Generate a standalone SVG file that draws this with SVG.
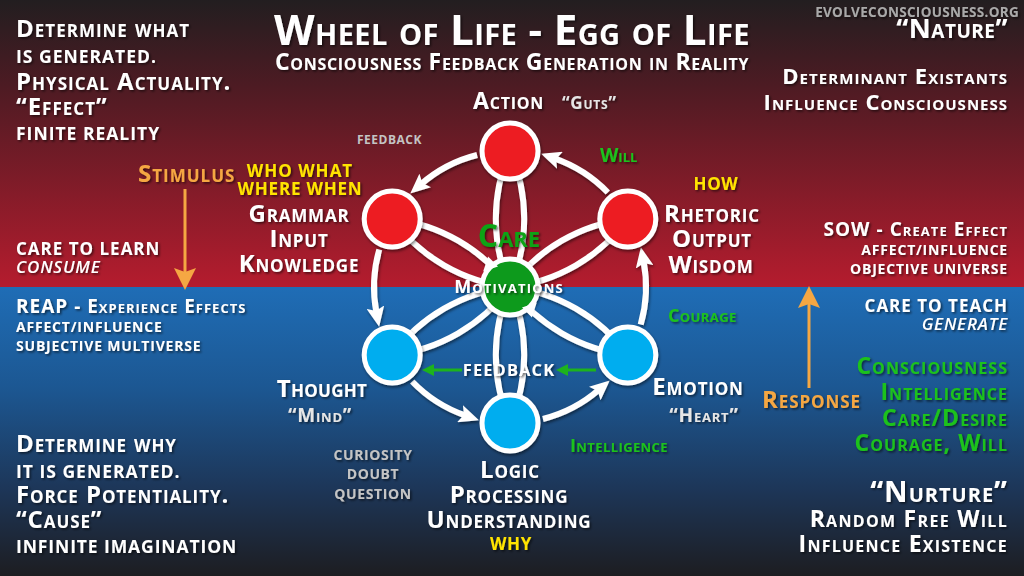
<svg xmlns="http://www.w3.org/2000/svg" width="1024" height="576" viewBox="0 0 1024 576">
<defs>
<linearGradient id="gRed" x1="0" y1="0" x2="0" y2="1">
<stop offset="0" stop-color="#221e20"/>
<stop offset="0.3" stop-color="#4d1b23"/>
<stop offset="1" stop-color="#b51c2e"/>
</linearGradient>
<linearGradient id="gBlue" x1="0" y1="0" x2="0" y2="1">
<stop offset="0" stop-color="#1f6db6"/>
<stop offset="0.35" stop-color="#1c5792"/>
<stop offset="0.7" stop-color="#1d3658"/>
<stop offset="1" stop-color="#1d1d21"/>
</linearGradient>
<filter id="sh" x="-20%" y="-20%" width="140%" height="140%">
<feDropShadow dx="1" dy="2" stdDeviation="1.5" flood-color="#000" flood-opacity="0.5"/>
</filter>
<filter id="tsh" x="-10%" y="-30%" width="120%" height="160%">
<feDropShadow dx="1.5" dy="1.5" stdDeviation="1" flood-color="#000" flood-opacity="0.6"/>
</filter>
<marker id="aw" markerUnits="userSpaceOnUse" markerWidth="20" markerHeight="18" refX="6" refY="9" orient="auto">
<path d="M0,0 L20,9 L0,18 L4,9 z" fill="#fff"/>
</marker>
<marker id="ag" markerUnits="userSpaceOnUse" markerWidth="12" markerHeight="12" refX="3" refY="6" orient="auto">
<path d="M0,0 L12,6 L0,12 z" fill="#1db31d"/>
</marker>
<marker id="ao" markerUnits="userSpaceOnUse" markerWidth="22" markerHeight="22" refX="4" refY="11" orient="auto">
<path d="M0,0 L22,11 L0,22 L4,11 z" fill="#f5a743"/>
</marker>
<style>
.t{font-family:"Open Sans","Liberation Sans",sans-serif;font-weight:700;font-variant:small-caps;fill:#fff;letter-spacing:0.8px;}
.n{font-family:"Open Sans","Liberation Sans",sans-serif;font-weight:700;fill:#fff;letter-spacing:0.6px;}
.g{fill:#1cc21c;}
.y{fill:#ffe400;}
.o{fill:#f5a743;}
.gr{fill:#c4c4c4;}
.lg{fill:#e6e6e6;}
.it{font-style:italic;font-weight:600;}
.m{text-anchor:middle;}
.e{text-anchor:end;}
.ring{fill:none;stroke:#fff;stroke-width:6;}
.red{fill:#ed1c24;stroke:#fff;stroke-width:5;}
.blue{fill:#00adef;stroke:#fff;stroke-width:5;}
.grn{fill:#0f9a1c;stroke:#fff;stroke-width:5;}
</style>
</defs>

<g id="background">
<rect x="0" y="0" width="1024" height="287" fill="url(#gRed)"/>
<rect x="0" y="287" width="1024" height="289" fill="url(#gBlue)"/>
</g>

<g id="title" filter="url(#tsh)">
<text class="t m" x="512" y="45" font-size="42" style="letter-spacing:0.4px">Wheel of Life - Egg of Life</text>
<text class="t m" x="512" y="70" font-size="23" font-weight="600" style="letter-spacing:0.7px">Consciousness Feedback Generation in Reality</text>
<text class="n e" x="1019" y="17" font-size="13.5" style="fill:#a9a9a9;letter-spacing:0.3px">EVOLVECONSCIOUSNESS.ORG</text>
</g>

<g id="top-left" filter="url(#tsh)">
<text class="t" x="16" y="37" font-size="24" style="letter-spacing:1px">Determine what</text>
<text class="n" x="16" y="63" font-size="17.5" style="letter-spacing:1px">IS GENERATED.</text>
<text class="t" x="16" y="90" font-size="24" style="letter-spacing:1px">Physical Actuality.</text>
<text class="t" x="16" y="115" font-size="24" style="letter-spacing:1px">“Effect”</text>
<text class="n" x="16" y="140" font-size="17.5" style="letter-spacing:1px">FINITE REALITY</text>
</g>

<g id="top-right" filter="url(#tsh)">
<text class="t e" x="1008" y="38" font-size="27" style="letter-spacing:0.5px">“Nature”</text>
<text class="t e" x="1008" y="84" font-size="22" style="letter-spacing:1.05px">Determinant Existants</text>
<text class="t e" x="1008" y="110" font-size="22" style="letter-spacing:1px">Influence Consciousness</text>
</g>

<g id="left-mid" filter="url(#tsh)">
<text class="n" x="16" y="255" font-size="17" style="letter-spacing:1px">CARE TO LEARN</text>
<text class="n it" x="16" y="273" font-size="17" style="letter-spacing:0.8px">CONSUME</text>
<text class="t" x="16" y="313" font-size="19" style="letter-spacing:1px">REAP - Experience Effects</text>
<text class="n" x="16" y="332" font-size="14" style="letter-spacing:0.8px">AFFECT/INFLUENCE</text>
<text class="n" x="16" y="351" font-size="14" style="letter-spacing:0.8px">SUBJECTIVE MULTIVERSE</text>
</g>

<g id="right-mid" filter="url(#tsh)">
<text class="t e" x="1008" y="236" font-size="19" style="letter-spacing:1.05px">SOW - Create Effect</text>
<text class="n e" x="1008" y="255" font-size="14" style="letter-spacing:0.8px">AFFECT/INFLUENCE</text>
<text class="n e" x="1008" y="274" font-size="14" style="letter-spacing:0.8px">OBJECTIVE UNIVERSE</text>
<text class="n e" x="1008" y="312" font-size="17" style="letter-spacing:1px">CARE TO TEACH</text>
<text class="n e it" x="1008" y="330" font-size="17" style="letter-spacing:0.8px">GENERATE</text>
</g>

<g id="stimulus">
<text class="t o" x="138" y="182" font-size="24" filter="url(#tsh)" style="letter-spacing:1px">Stimulus</text>
<line x1="185" y1="189" x2="185" y2="272" stroke="#f5a743" stroke-width="3" marker-end="url(#ao)"/>
</g>

<g id="response">
<line x1="809" y1="388" x2="809" y2="304" stroke="#f5a743" stroke-width="3" marker-end="url(#ao)"/>
<text class="t o" x="762" y="408" font-size="24" filter="url(#tsh)" style="letter-spacing:0.9px">Response</text>
</g>

<g id="bottom-left" filter="url(#tsh)">
<text class="t" x="16" y="452" font-size="24" style="letter-spacing:0.9px">Determine why</text>
<text class="n" x="16" y="478" font-size="17.5" style="letter-spacing:1px">IT IS GENERATED.</text>
<text class="t" x="16" y="503" font-size="24" style="letter-spacing:0.9px">Force Potentiality.</text>
<text class="t" x="16" y="528" font-size="24" style="letter-spacing:0.9px">“Cause”</text>
<text class="n" x="16" y="553" font-size="17.5" style="letter-spacing:0.9px">INFINITE IMAGINATION</text>
</g>

<g id="bottom-right" filter="url(#tsh)">
<text class="t e g" x="1008" y="374" font-size="23" style="letter-spacing:1.05px">Consciousness</text>
<text class="t e g" x="1008" y="400" font-size="23" style="letter-spacing:1.05px">Intelligence</text>
<text class="t e g" x="1008" y="426" font-size="23" style="letter-spacing:1.05px">Care/Desire</text>
<text class="t e g" x="1008" y="451" font-size="23" style="letter-spacing:1.05px">Courage, Will</text>
<text class="t e" x="1008" y="502" font-size="29" style="letter-spacing:1px">“Nurture”</text>
<text class="t e" x="1008" y="527" font-size="23" style="letter-spacing:1.3px">Random Free Will</text>
<text class="t e" x="1008" y="552" font-size="23" style="letter-spacing:1.25px">Influence Existence</text>
</g>

<g id="connectors" filter="url(#sh)">
<g class="ring">
<path d="M510,287 A170,170 0 0 1 510,151"/>
<path d="M510,287 A170,170 0 0 0 510,151"/>
<path d="M510,287 A170,170 0 0 1 392.2,219"/>
<path d="M510,287 A170,170 0 0 0 392.2,219"/>
<path d="M510,287 A170,170 0 0 1 392.2,355"/>
<path d="M510,287 A170,170 0 0 0 392.2,355"/>
<path d="M510,287 A170,170 0 0 1 510,423"/>
<path d="M510,287 A170,170 0 0 0 510,423"/>
<path d="M510,287 A170,170 0 0 1 627.8,355"/>
<path d="M510,287 A170,170 0 0 0 627.8,355"/>
<path d="M510,287 A170,170 0 0 1 627.8,219"/>
<path d="M510,287 A170,170 0 0 0 627.8,219"/>
<path d="M477.1,155.0 A136,136 0 0 0 420.8,184.4" marker-end="url(#aw)"/>
<path d="M379.3,249.5 A136,136 0 0 0 376.5,313.0" marker-end="url(#aw)"/>
<path d="M412.2,381.5 A136,136 0 0 0 465.7,415.6" marker-end="url(#aw)"/>
<path d="M542.9,419.0 A136,136 0 0 0 599.2,389.6" marker-end="url(#aw)"/>
<path d="M640.7,324.5 A136,136 0 0 0 643.5,261.0" marker-end="url(#aw)"/>
<path d="M607.8,192.5 A136,136 0 0 0 554.3,158.4" marker-end="url(#aw)"/>
</g>
</g>

<g id="node-action">
<circle class="red" cx="510" cy="151" r="28" filter="url(#sh)"/>
<text class="t" x="473" y="109" font-size="23" filter="url(#tsh)">Action</text>
<text class="t lg" x="562" y="109" font-size="17" font-weight="600" filter="url(#tsh)">“Guts”</text>
</g>

<g id="node-grammar">
<circle class="red" cx="392.2" cy="219" r="28" filter="url(#sh)"/>
<g filter="url(#tsh)">
<text class="n m y" x="300" y="177" font-size="17" style="letter-spacing:1px">WHO WHAT</text>
<text class="n m y" x="300" y="195" font-size="17" style="letter-spacing:0.8px">WHERE WHEN</text>
<text class="t m" x="299" y="222" font-size="24">Grammar</text>
<text class="t m" x="299" y="247" font-size="24">Input</text>
<text class="t m" x="299" y="272" font-size="24">Knowledge</text>
</g>
</g>

<g id="node-rhetoric">
<circle class="red" cx="627.8" cy="219" r="28" filter="url(#sh)"/>
<g filter="url(#tsh)">
<text class="n m y" x="716" y="190" font-size="17">HOW</text>
<text class="t m" x="712" y="222" font-size="24">Rhetoric</text>
<text class="t m" x="712" y="247" font-size="24">Output</text>
<text class="t m" x="711" y="273" font-size="24">Wisdom</text>
</g>
</g>

<g id="node-thought">
<circle class="blue" cx="392.2" cy="355" r="28" filter="url(#sh)"/>
<g filter="url(#tsh)">
<text class="t m" x="322" y="397" font-size="24" style="letter-spacing:0.3px">Thought</text>
<text class="t m lg" x="320" y="422" font-size="19" font-weight="600">“Mind”</text>
<text class="n m gr" x="373" y="460" font-size="14" font-weight="600">CURIOSITY</text>
<text class="n m gr" x="373" y="479" font-size="14" font-weight="600">DOUBT</text>
<text class="n m gr" x="373" y="499" font-size="14" font-weight="600">QUESTION</text>
</g>
</g>

<g id="node-emotion">
<circle class="blue" cx="627.8" cy="355" r="28" filter="url(#sh)"/>
<g filter="url(#tsh)">
<text class="t m" x="698" y="395" font-size="24">Emotion</text>
<text class="t m lg" x="704" y="422" font-size="19" font-weight="600">“Heart”</text>
</g>
</g>

<g id="node-logic">
<circle class="blue" cx="510" cy="423" r="28" filter="url(#sh)"/>
<g filter="url(#tsh)">
<text class="t m" x="510" y="478" font-size="24">Logic</text>
<text class="t m" x="509" y="503" font-size="24">Processing</text>
<text class="t m" x="509" y="528" font-size="24">Understanding</text>
<text class="n m y" x="511" y="550" font-size="17">WHY</text>
</g>
</g>

<g id="node-care">
<circle class="grn" cx="510" cy="287" r="28" filter="url(#sh)"/>
<path d="M8,0 L-6,-7 L-6,7 z" fill="#fff" transform="translate(488.8,265.8) rotate(135)"/>
<path d="M8,0 L-6,-7 L-6,7 z" fill="#fff" transform="translate(531.2,308.2) rotate(-45)"/>
<text class="t m" x="509" y="247" font-size="32" style="fill:#0fa314;letter-spacing:0px" filter="url(#tsh)">Care</text>
<text class="t m" x="509" y="293" font-size="18" style="letter-spacing:1.2px" filter="url(#tsh)">Motivations</text>
</g>

<g id="feedback-loop">
<text class="n gr" x="357" y="144" font-size="12" font-weight="600" style="letter-spacing:0.5px">FEEDBACK</text>
<line x1="596" y1="370" x2="565" y2="370" stroke="#1db31d" stroke-width="3" marker-end="url(#ag)"/>
<line x1="462" y1="370" x2="431" y2="370" stroke="#1db31d" stroke-width="3" marker-end="url(#ag)"/>
<text class="n m" x="509" y="376" font-size="16.5" style="letter-spacing:1.1px" filter="url(#tsh)">FEEDBACK</text>
</g>

<g id="virtues" filter="url(#tsh)">
<text class="t g" x="600" y="162" font-size="19" style="letter-spacing:0px">Will</text>
<text class="t g" x="668" y="322" font-size="18" style="letter-spacing:0.4px">Courage</text>
<text class="t g" x="570" y="452" font-size="18" style="letter-spacing:0.4px">Intelligence</text>
</g>
</svg>
